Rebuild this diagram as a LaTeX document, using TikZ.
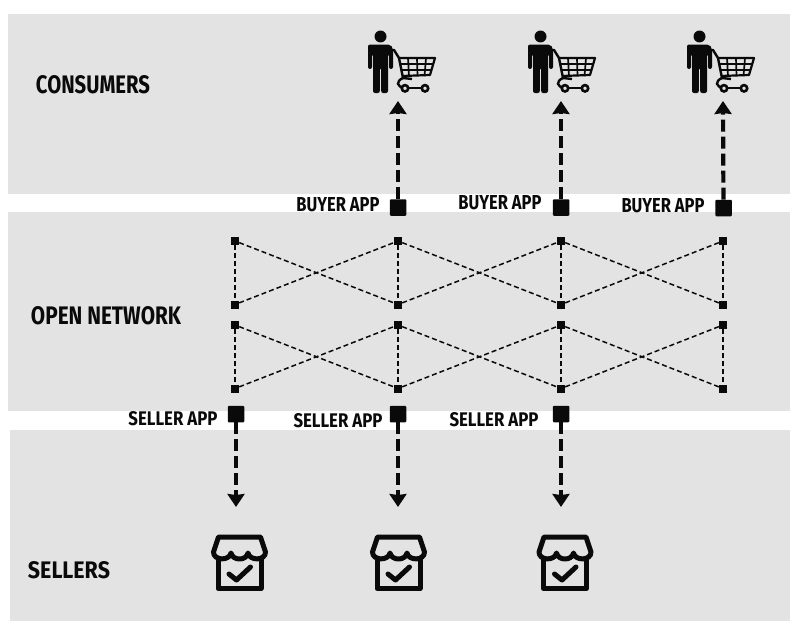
\documentclass[tikz,border=0pt]{standalone}
\usepackage{graphicx}
\usepackage{fontspec}
\setmainfont{Fira Sans}
\usetikzlibrary{arrows.meta}
\definecolor{band}{HTML}{E3E3E3}
\definecolor{ink}{HTML}{0A0A0A}
\newcommand{\fitlabel}[3]{\resizebox{#1pt}{#2pt}{\bfseries #3}}
\tikzset{
  bandbox/.style={fill=band,draw=none},
  lab/.style={inner sep=0pt,text=ink},
  hub/.style={fill=ink,draw=none,minimum size=16.5pt,inner sep=0pt,rounded corners=1pt},
  dot/.style={fill=ink,draw=none,minimum size=8pt,inner sep=0pt},
  mesh/.style={draw=ink,line width=1.5pt,dash pattern=on 5pt off 3pt},
  flow/.style={draw=ink,line width=4.2pt,dash pattern=on 12pt off 5pt,-{Stealth[length=13pt,width=17pt,inset=1pt]}},
  pics/shopper/.style={code={
    \fill[ink] (-17.5,-25.5) circle (6);
    \fill[ink,rounded corners=2pt] (-30,-17.5) -- (-8,-17.5) -- (-5,-14) -- (-5,7) -- (-9,7) -- (-9,-8)
      -- (-10,-8) -- (-10,31) -- (-16.8,31) -- (-16.8,6) -- (-18.2,6) -- (-18.2,31) -- (-25,31) -- (-25,-8)
      -- (-26,-8) -- (-26,7) -- (-30,7) -- cycle;
    \draw[ink,line width=2.4pt,line join=round] (-9,-12) -- (-4,-12) -- (1,-4) -- (5,16) -- (14,17);
    \draw[ink,line width=2.2pt,line join=round] (1,-4) -- (37,-4) -- (32,13) -- (4,14);
    \draw[ink,line width=1.7pt] (2,2) -- (35,2) (3,8) -- (33.5,8)
      (10,-4) -- (11,14) (19,-4) -- (19.5,14) (28,-4) -- (26.5,14);
    \draw[ink,line width=2.4pt] (5,16) .. controls (-2,19) and (-2,25) .. (7,26);
    \draw[ink,line width=2.2pt] (7,26) -- (27,26);
    \draw[ink,line width=2.6pt,fill=band] (7,26.3) circle (3.2) (27,26.3) circle (3.2);
  }},
  pics/stall/.style={code={
    \draw[ink,line width=5pt,line join=round,line cap=round]
      (-21,-25) -- (21,-25) -- (26,-10)
      .. controls (26,-1) and (10,-1) .. (8.5,-9)
      .. controls (7,-1) and (-7,-1) .. (-8.5,-9)
      .. controls (-10,-1) and (-26,-1) .. (-26,-10) -- cycle;
    \draw[ink,line width=5pt,line join=round,line cap=round]
      (-21.5,-4) -- (-21.5,26.5) -- (21.5,26.5) -- (21.5,-4);
    \draw[ink,line width=5pt,line join=round,line cap=round]
      (-10.5,12) -- (-3,18) -- (11,5);
  }}
}
\begin{document}
\begin{tikzpicture}[x=1pt,y=-1pt]
\useasboundingbox (0,0) rectangle (790,621);
\fill[white] (0,0) rectangle (790,621);
\fill[bandbox] (8,14) rectangle (790,194);
\fill[bandbox] (8,212) rectangle (790,411);
\fill[bandbox] (10,430) rectangle (790,621);

\node[lab] (consumers) at (93,85) {\fitlabel{114}{18}{CONSUMERS}};
\node[lab] (opennet) at (106,316) {\fitlabel{150}{18}{OPEN NETWORK}};
\node[lab] (sellers) at (69,570) {\fitlabel{82}{17}{SELLERS}};

\node[lab] (b1l) at (338,204.5) {\fitlabel{83}{14}{BUYER APP}};
\node[lab] (b2l) at (500,202.5) {\fitlabel{83}{14}{BUYER APP}};
\node[lab] (b3l) at (663,205.5) {\fitlabel{83}{14}{BUYER APP}};
\node[lab] (s1l) at (173,419) {\fitlabel{89}{14}{SELLER APP}};
\node[lab] (s2l) at (338,421) {\fitlabel{89}{14}{SELLER APP}};
\node[lab] (s3l) at (494,420) {\fitlabel{89}{14}{SELLER APP}};

\foreach \n/\x in {1/235,2/398,3/561,4/723}{
  \node[dot] (a\n) at (\x,241) {};
  \node[dot] (b\n) at (\x,304.5) {};
  \node[dot] (c\n) at (\x,325) {};
  \node[dot] (d\n) at (\x,388.5) {};
}
\foreach \n in {1,2,3,4}{
  \draw[mesh] (a\n) -- (b\n);
  \draw[mesh] (c\n) -- (d\n);
}
\foreach \n/\m in {1/2,2/3,3/4}{
  \draw[mesh] (a\n) -- (b\m);
  \draw[mesh] (b\n) -- (a\m);
  \draw[mesh] (c\n) -- (d\m);
  \draw[mesh] (d\n) -- (c\m);
}

\node[hub] (buy1) at (398,207.5) {};
\node[hub] (buy2) at (561,207.5) {};
\node[hub] (buy3) at (723.5,208) {};
\node[hub] (sel1) at (236,414) {};
\node[hub] (sel2) at (398,414) {};
\node[hub] (sel3) at (561,414) {};

\pic at (398,62) {shopper};
\pic at (558,62) {shopper};
\pic at (717,62) {shopper};
\pic at (239.5,562) {stall};
\pic at (398.5,562) {stall};
\pic at (565,562) {stall};

\coordinate (up1) at (398,101);
\coordinate (up2) at (561,101);
\coordinate (up3) at (723,101);
\coordinate (dn1) at (236,507);
\coordinate (dn2) at (398,507);
\coordinate (dn3) at (561,507);
\foreach \n in {1,2,3}{
  \draw[flow] (buy\n) -- (up\n);
  \draw[flow] (sel\n) -- (dn\n);
}
\end{tikzpicture}
\end{document}
